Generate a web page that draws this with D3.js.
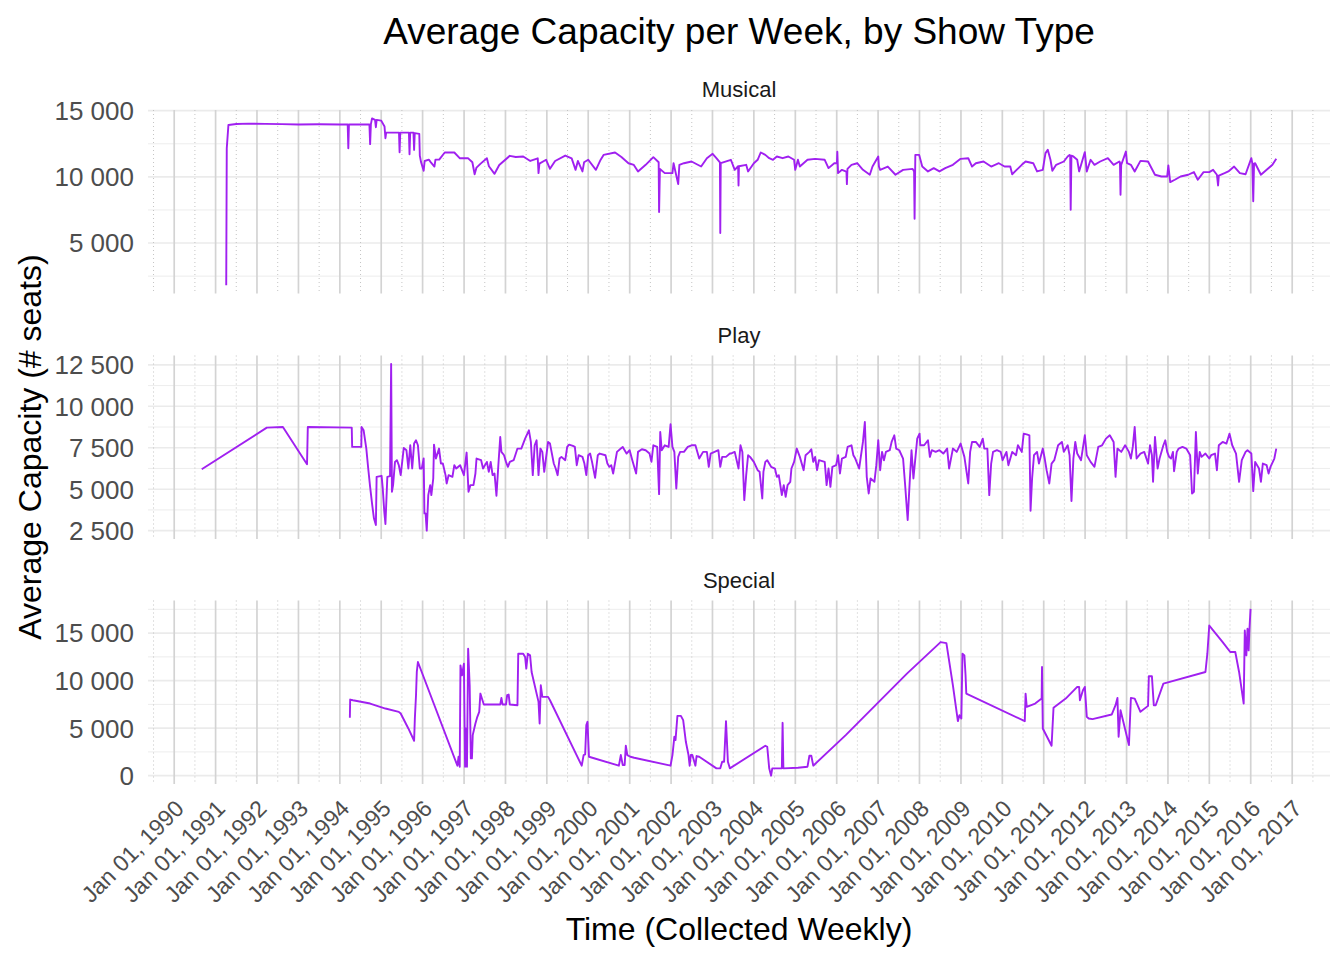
<!DOCTYPE html>
<html>
<head>
<meta charset="utf-8">
<script src="https://cdn.jsdelivr.net/npm/d3@7"></script>
<style>
  body { margin: 0; background: #fff; }
  svg text { font-family: "Liberation Sans", Arial, sans-serif; }
</style>
</head>
<body>
<svg id="chart" width="1344" height="960"></svg>
<script>
// Weekly average capacity (decimal years -> seats)
const musicalYears = [1991.257, 1991.27, 1991.31, 1991.5, 1991.8, 1992.2, 1992.6, 1993.0, 1993.5, 1994.0, 1994.19, 1994.205, 1994.22, 1994.5, 1994.715, 1994.732, 1994.75, 1994.778, 1994.85, 1994.871, 1994.89, 1995.0, 1995.08, 1995.102, 1995.12, 1995.43, 1995.444, 1995.46, 1995.67, 1995.684, 1995.70, 1995.78, 1995.795, 1995.81, 1995.92, 1995.933, 1995.96, 1996.026, 1996.05, 1996.15, 1996.2, 1996.285, 1996.31, 1996.4, 1996.534, 1996.765, 1996.9, 1997.1, 1997.2, 1997.255, 1997.3, 1997.4, 1997.551, 1997.6, 1997.736, 1997.85, 1998.105, 1998.25, 1998.429, 1998.6, 1998.78, 1998.799, 1998.82, 1998.983, 1999.076, 1999.2, 1999.445, 1999.6, 1999.695, 1999.75, 1999.861, 1999.9, 2000.0, 2000.185, 2000.3, 2000.37, 2000.647, 2000.8, 2000.97, 2001.1, 2001.201, 2001.386, 2001.571, 2001.70, 2001.710, 2001.73, 2001.848, 2002.033, 2002.06, 2002.172, 2002.2, 2002.311, 2002.495, 2002.726, 2002.865, 2003.004, 2003.1, 2003.18, 2003.189, 2003.2, 2003.445, 2003.538, 2003.62, 2003.630, 2003.64, 2003.815, 2003.861, 2004.0, 2004.092, 2004.166, 2004.277, 2004.37, 2004.462, 2004.555, 2004.693, 2004.832, 2004.97, 2004.998, 2005.063, 2005.109, 2005.294, 2005.479, 2005.71, 2005.802, 2005.941, 2006.005, 2006.015, 2006.033, 2006.126, 2006.218, 2006.235, 2006.246, 2006.26, 2006.357, 2006.495, 2006.634, 2006.8, 2006.865, 2007.004, 2007.02, 2007.05, 2007.235, 2007.42, 2007.604, 2007.835, 2007.870, 2007.882, 2007.90, 2007.993, 2008.067, 2008.205, 2008.344, 2008.482, 2008.621, 2008.806, 2008.991, 2009.176, 2009.268, 2009.36, 2009.545, 2009.73, 2009.915, 2010.054, 2010.192, 2010.238, 2010.47, 2010.562, 2010.747, 2010.839, 2010.978, 2011.043, 2011.098, 2011.163, 2011.209, 2011.301, 2011.486, 2011.579, 2011.625, 2011.64, 2011.652, 2011.67, 2011.717, 2011.81, 2011.856, 2011.994, 2012.041, 2012.133, 2012.226, 2012.364, 2012.549, 2012.688, 2012.826, 2012.84, 2012.854, 2012.87, 2012.983, 2013.011, 2013.104, 2013.196, 2013.335, 2013.519, 2013.686, 2013.843, 2013.982, 2014.009, 2014.055, 2014.166, 2014.305, 2014.49, 2014.628, 2014.721, 2014.86, 2014.998, 2015.091, 2015.183, 2015.211, 2015.23, 2015.368, 2015.46, 2015.599, 2015.738, 2015.876, 2016.015, 2016.04, 2016.061, 2016.08, 2016.107, 2016.246, 2016.384, 2016.523, 2016.616];
const musicalSeats = [1820, 12160, 13920, 13990, 14020, 14000, 13980, 13960, 13970, 13950, 13960, 12160, 13950, 13960, 13950, 12470, 13960, 14420, 14300, 13750, 14300, 14250, 13800, 12920, 13340, 13340, 11860, 13340, 13340, 11710, 13340, 13340, 12040, 13300, 13250, 11600, 11150, 10460, 11200, 11300, 11100, 10780, 11300, 11300, 11840, 11840, 11400, 11400, 11100, 10200, 10700, 11000, 11410, 10800, 10230, 10900, 11590, 11500, 11540, 11200, 11400, 10280, 11000, 11290, 10610, 11200, 11610, 11400, 10530, 11200, 10410, 11100, 11290, 10530, 11300, 11660, 11840, 11500, 11030, 10900, 10410, 10910, 11490, 11100, 7350, 10600, 10280, 10280, 11030, 9450, 10900, 11030, 11160, 10780, 11410, 11740, 11400, 11100, 5760, 11030, 11290, 10530, 10800, 9350, 10800, 10910, 10410, 11030, 11290, 11840, 11660, 11410, 11290, 11540, 11410, 11540, 11290, 10530, 11290, 10780, 11290, 11360, 11290, 10660, 11030, 11030, 11900, 10280, 10530, 10410, 10400, 9450, 10600, 10910, 11030, 10530, 10160, 10780, 11540, 10780, 10530, 10780, 10160, 10530, 10600, 10400, 6840, 11660, 11660, 10780, 10410, 10660, 10410, 10660, 10910, 11360, 11410, 10780, 11030, 11160, 10780, 11030, 10780, 10780, 10200, 10910, 11160, 11030, 10410, 10530, 11790, 12040, 11290, 10460, 10910, 11160, 11540, 11660, 11600, 7520, 11600, 11540, 11290, 10410, 11870, 10410, 11290, 10910, 11160, 11410, 10910, 11160, 11100, 8650, 10900, 11910, 11030, 10910, 10410, 11210, 11160, 10160, 10030, 10030, 10860, 9600, 9780, 10030, 10160, 10360, 9780, 10360, 10360, 10530, 10160, 9350, 10100, 10280, 10410, 10780, 10280, 10200, 11410, 11000, 8150, 11000, 11030, 10160, 10530, 10910, 11360];

const playYears = [1990.665, 1992.237, 1992.625, 1993.207, 1993.226, 1994.288, 1994.298, 1994.519, 1994.525, 1994.575, 1994.640, 1994.686, 1994.732, 1994.778, 1994.824, 1994.871, 1994.889, 1995.009, 1995.037, 1995.074, 1995.102, 1995.148, 1995.213, 1995.240, 1995.259, 1995.287, 1995.333, 1995.379, 1995.425, 1995.471, 1995.545, 1995.610, 1995.656, 1995.702, 1995.749, 1995.795, 1995.841, 1995.887, 1995.933, 1995.980, 1996.026, 1996.044, 1996.072, 1996.100, 1996.137, 1996.183, 1996.211, 1996.257, 1996.275, 1996.322, 1996.396, 1996.442, 1996.488, 1996.553, 1996.580, 1996.627, 1996.719, 1996.765, 1996.811, 1996.904, 1996.996, 1997.061, 1997.107, 1997.153, 1997.227, 1997.274, 1997.301, 1997.412, 1997.458, 1997.551, 1997.597, 1997.643, 1997.689, 1997.736, 1997.782, 1997.828, 1997.874, 1997.902, 1997.967, 1998.013, 1998.059, 1998.105, 1998.198, 1998.290, 1998.383, 1998.429, 1998.475, 1998.567, 1998.614, 1998.660, 1998.706, 1998.752, 1998.799, 1998.845, 1998.891, 1998.937, 1999.030, 1999.076, 1999.168, 1999.214, 1999.261, 1999.307, 1999.353, 1999.445, 1999.492, 1999.538, 1999.630, 1999.677, 1999.723, 1999.769, 1999.861, 1999.908, 1999.954, 2000.000, 2000.046, 2000.092, 2000.166, 2000.231, 2000.277, 2000.416, 2000.462, 2000.508, 2000.555, 2000.601, 2000.693, 2000.786, 2000.832, 2000.924, 2000.998, 2001.063, 2001.155, 2001.201, 2001.294, 2001.386, 2001.479, 2001.525, 2001.571, 2001.664, 2001.710, 2001.738, 2001.774, 2001.848, 2001.941, 2001.987, 2002.033, 2002.079, 2002.126, 2002.172, 2002.218, 2002.311, 2002.403, 2002.495, 2002.588, 2002.680, 2002.773, 2002.865, 2002.911, 2002.957, 2003.050, 2003.142, 2003.189, 2003.235, 2003.327, 2003.420,
  2003.445, 2003.538, 2003.630, 2003.677, 2003.723, 2003.769, 2003.815, 2003.861, 2003.908, 2004.000, 2004.092, 2004.139, 2004.203, 2004.231, 2004.277, 2004.323, 2004.416, 2004.508, 2004.555, 2004.601, 2004.675, 2004.721, 2004.767, 2004.813, 2004.878, 2004.906, 2004.970, 2005.035, 2005.109, 2005.201, 2005.248, 2005.340, 2005.386, 2005.433, 2005.479, 2005.525, 2005.571, 2005.710, 2005.756, 2005.802, 2005.848, 2005.895, 2005.987, 2006.033, 2006.079, 2006.126, 2006.218, 2006.264, 2006.357, 2006.403, 2006.449, 2006.542, 2006.634, 2006.680, 2006.726, 2006.773, 2006.819, 2006.911, 2006.957, 2007.004, 2007.050, 2007.096, 2007.142, 2007.189, 2007.281, 2007.327, 2007.392, 2007.438, 2007.512, 2007.604, 2007.651, 2007.715, 2007.762, 2007.808, 2007.854, 2007.900, 2007.946, 2008.002, 2008.020, 2008.113, 2008.205, 2008.251, 2008.298, 2008.390, 2008.482, 2008.575, 2008.667, 2008.714, 2008.806, 2008.898, 2008.991, 2009.083, 2009.176, 2009.222, 2009.268, 2009.360, 2009.453, 2009.527, 2009.564, 2009.638, 2009.684, 2009.730, 2009.776, 2009.869, 2009.961, 2010.007, 2010.100, 2010.146, 2010.238, 2010.331, 2010.377, 2010.470, 2010.516, 2010.608, 2010.654, 2010.682, 2010.719, 2010.765, 2010.839, 2010.885, 2010.978, 2011.024, 2011.070, 2011.135, 2011.190, 2011.255, 2011.348, 2011.440, 2011.486, 2011.579, 2011.625, 2011.671, 2011.717, 2011.763, 2011.810, 2011.902, 2011.994, 2012.041, 2012.133, 2012.226, 2012.318, 2012.410, 2012.503, 2012.595, 2012.688, 2012.734, 2012.780, 2012.872, 2012.965, 2013.057, 2013.104, 2013.150, 2013.196, 2013.242, 2013.335, 2013.427, 2013.519, 2013.566, 2013.612, 2013.640, 2013.686, 2013.750, 2013.797, 2013.889, 2013.935, 2013.982, 2014.028, 2014.074, 2014.120, 2014.148, 2014.213, 2014.259, 2014.351, 2014.444, 2014.536, 2014.582, 2014.628, 2014.675, 2014.721, 2014.767, 2014.813, 2014.906, 2014.998, 2015.044, 2015.137, 2015.183, 2015.229, 2015.322, 2015.414, 2015.488, 2015.553, 2015.645, 2015.719, 2015.784, 2015.876, 2015.922, 2016.015, 2016.061, 2016.107, 2016.200, 2016.246, 2016.292, 2016.384, 2016.431, 2016.477, 2016.569, 2016.616];
const playSeats = [6207, 8712, 8753, 6508, 8753, 8712, 7550, 7550, 8753, 8552, 7450, 6248, 5145, 4143, 3242, 2841, 5747, 5807, 5045, 3642, 2901, 5747, 5787, 12560, 4845, 5246, 6648, 6749, 6448, 5847, 7490, 7350, 6248, 7650, 6248, 7751, 7951, 7650, 6248, 6248, 6849, 3542, 3542, 2500, 4644, 5246, 4644, 5646, 7690, 6849, 7450, 6548, 6548, 5847, 5346, 5847, 5747, 6448, 6248, 6448, 5847, 7209, 4845, 5246, 5246, 5947, 6849, 6749, 6248, 6648, 6047, 6648, 5847, 5947, 4604, 6448, 8151, 7250, 7049, 6648, 6348, 6648, 6749, 7450, 7450, 7751, 8051, 8552, 7851, 5847, 7650, 7951, 5847, 7450, 7250, 6047, 7851, 7751, 6548, 6248, 5847, 6849, 6949, 6749, 7550, 7690, 7610, 7550, 6448, 7049, 6949, 6548, 5847, 7049, 7149, 6648, 5686, 7049, 7149, 7049, 6548, 6348, 6448, 5947, 7250, 7450, 7550, 7149, 7350, 6749, 5947, 7250, 7410, 7350, 7149, 6648, 7650, 7550, 4704, 8452, 7350, 7650, 7550, 8913, 7550, 7250, 5045, 6949, 7250, 7250, 7550, 7650, 7650, 6849, 7250, 7250, 6348, 7149, 7250, 7350, 6348, 6949, 6949, 7149,
  7149, 7250, 6248, 7650, 7250, 4344, 5847, 7049, 6949, 6648, 6147, 6047, 4444, 6047, 6648, 6749, 6348, 6248, 5747, 5847, 4644, 5246, 4544, 5246, 5446, 6248, 6648, 7450, 6949, 6147, 7049, 7250, 7410, 6648, 6949, 6147, 6749, 6648, 5246, 6248, 5145, 6348, 6448, 7049, 5947, 6849, 6949, 7550, 7650, 7049, 6849, 6248, 7851, 9053, 5747, 4745, 5646, 5446, 6448, 7951, 6147, 7250, 6749, 7250, 7350, 7851, 8252, 7450, 7350, 6849, 5346, 3141, 5346, 7350, 5646, 6849, 8051, 8352, 7650, 7650, 7951, 6949, 7350, 7250, 7350, 7149, 7450, 6248, 7450, 7250, 7751, 6949, 5346, 7250, 7851, 7851, 7550, 8051, 7450, 7450, 4644, 6548, 7250, 7350, 7250, 6749, 7250, 6448, 7250, 7049, 7650, 7250, 8352, 8292, 8252, 3702, 5646, 7049, 7250, 6548, 7450, 6849, 6147, 5346, 6548, 6749, 7650, 7851, 7250, 7650, 7049, 4284, 6849, 7851, 7149, 6749, 8252, 7049, 6648, 6348, 7550, 7650, 8051, 8252, 7851, 5747, 7450, 7250, 7650, 7250, 6849, 7550, 8753, 6849, 7149, 7250, 6548, 7650, 7049, 5446, 8151, 6248, 6849, 7650, 7951, 7250, 6949, 6849, 7250, 6087, 7250, 7450, 7550, 7450, 7049, 4745, 4845, 8452, 5947, 7250, 6949, 7149, 6849, 7049, 7149, 6147, 7650, 7851, 7751, 8352, 7650, 7149, 5446, 6749, 7250, 7350, 7149, 4885, 6648, 6248, 5446, 6548, 6448, 5947, 6348, 6849, 7450];

const specialYears = [1994.242, 1994.25, 1994.316, 1994.732, 1995.102, 1995.425, 1995.471, 1995.656, 1995.795, 1995.813, 1995.841, 1995.860, 1995.887, 1996.839, 1996.867, 1996.895, 1996.913, 1996.950, 1996.996, 1997.024, 1997.043, 1997.070, 1997.098, 1997.135, 1997.163, 1997.190, 1997.209, 1997.274, 1997.320, 1997.366, 1997.394, 1997.431, 1997.477, 1997.874, 1997.902, 1997.930, 1998.013, 1998.041, 1998.078, 1998.105, 1998.290, 1998.309, 1998.429, 1998.475, 1998.503, 1998.540, 1998.595, 1998.632, 1998.706, 1998.799, 1998.826, 1998.854, 1998.891, 1999.030, 1999.076, 1999.843, 1999.889, 1999.926, 1999.954, 1999.982, 2000.018, 2000.739, 2000.786, 2000.832, 2000.878, 2000.906, 2000.943, 2001.017, 2001.109, 2001.987, 2002.033, 2002.079, 2002.107, 2002.153, 2002.237, 2002.292, 2002.357, 2002.421, 2002.449, 2002.477, 2002.514, 2002.588, 2002.616, 2002.680, 2003.096, 2003.189, 2003.235, 2003.281, 2003.327, 2003.373, 2003.420, 2004.277, 2004.323, 2004.370, 2004.416, 2004.444, 2004.675, 2004.693, 2004.712, 2005.063, 2005.294, 2005.340, 2005.386, 2005.433, 2006.218, 2007.697, 2008.510, 2008.649, 2008.806, 2008.926, 2008.963, 2009.009, 2009.037, 2009.083, 2009.111, 2009.129, 2010.543, 2010.562, 2010.590, 2010.793, 2010.950, 2010.959, 2010.978, 2011.190, 2011.237, 2011.532, 2011.810, 2011.856, 2011.875, 2011.948, 2011.994, 2012.041, 2012.087, 2012.179, 2012.641, 2012.734, 2012.780, 2012.808, 2012.854, 2013.057, 2013.104, 2013.196, 2013.335, 2013.519, 2013.538, 2013.612, 2013.658, 2013.704, 2013.889, 2014.906, 2014.952, 2014.998, 2015.072, 2015.322, 2015.506, 2015.627, 2015.719, 2015.830, 2015.857, 2015.895, 2015.922, 2015.950, 2015.968, 2015.996];
const specialSeats = [6085, 8008, 7938, 7588, 7064, 6714, 6539, 4966, 3672, 6015, 8463, 10911, 11960, 1049, 1993, 944, 11610, 10561, 11785, 944, 4966, 944, 13359, 9512, 1818, 1818, 4266, 5490, 6190, 6714, 8638, 8113, 7484, 7484, 8183, 7484, 7484, 8463, 8533, 7484, 7414, 12834, 12834, 12484, 11260, 12834, 12659, 10911, 9512, 7763, 5490, 9512, 8288, 8288, 7938, 1049, 2168, 2238, 5315, 5665, 1993, 1049, 2168, 1119, 1119, 3147, 2168, 1993, 1888, 1049, 2168, 4091, 3742, 6295, 6295, 5840, 3567, 2168, 1049, 2168, 2168, 1049, 2063, 1993, 769, 769, 1469, 1469, 5735, 1469, 769, 3147, 3042, 769, 0, 769, 769, 5560, 769, 839, 944, 2098, 2098, 1049, 4266, 10736, 14058, 13953, 9512, 5735, 6365, 6015, 12834, 12659, 10561, 8638, 5735, 8638, 7239, 7588, 8113, 11435, 4966, 3147, 7134, 8113, 9337, 9337, 7938, 8987, 9337, 6190, 6015, 5945, 6434, 7414, 8183, 4091, 6889, 3217, 8183, 8113, 6714, 7344, 10456, 10456, 7414, 7414, 9687, 10911, 12834, 15806, 15387, 14058, 13009, 13009, 10911, 7588, 15282, 12659, 15457, 13184, 15282, 17555];

const showTypes = ["Musical", "Play", "Special"];
const musicalTicks = [5000, 10000, 15000];
const playTicks = [2500, 5000, 7500, 10000, 12500];
const specialTicks = [0, 5000, 10000, 15000];

const chartTitle = "Average Capacity per Week, by Show Type";
const xTitle = "Time (Collected Weekly)";
const yTitle = "Average Capacity (# seats)";

// layout
const width = 1344, height = 960;
const panelLeft = 148, panelRight = 1330;
const panelTops = [110, 355.5, 600.5];
const panelH = 183.5;
const lineColor = "#A020F0";

function toDate(y) {
    const yr = Math.floor(y);
    const start = Date.UTC(yr, 0, 1), end = Date.UTC(yr + 1, 0, 1);
    return new Date(start + (y - yr) * (end - start));
}

function zip(years, seats) {
    return years.map((y, i) => ({ date: toDate(y), seats: seats[i] }));
}

function expand(ext) {
    const pad = (ext[1] - ext[0]) * 0.05;
    return [ext[0] - pad, ext[1] + pad];
}

const facets = [
    { name: showTypes[0], data: zip(musicalYears, musicalSeats), ticks: musicalTicks },
    { name: showTypes[1], data: zip(playYears, playSeats), ticks: playTicks },
    { name: showTypes[2], data: zip(specialYears, specialSeats), ticks: specialTicks }
];

const fmt = d3.formatLocale({ decimal: ".", thousands: " ", grouping: [3], currency: ["", ""] }).format(",");
const dateFmt = d3.utcFormat("%b %d, %Y");

const allDates = facets.flatMap(f => f.data.map(d => d.date));
const dExt = d3.extent(allDates).map(d => +d);
const x = d3.scaleUtc()
    .domain(expand(dExt).map(t => new Date(t)))
    .range([panelLeft, panelRight]);

const majorX = x.ticks(d3.utcYear.every(1));
const minorX = [];
for (let i = 0; i < majorX.length - 1; i++) {
    minorX.push(new Date((+majorX[i] + +majorX[i + 1]) / 2));
}
const step = +majorX[1] - +majorX[0];
[+majorX[0] - step / 2, +majorX[majorX.length - 1] + step / 2].forEach(t => {
    const d = new Date(t);
    if (d >= x.domain()[0] && d <= x.domain()[1]) minorX.push(d);
});

const svg = d3.select("#chart");
svg.append("rect").attr("width", width).attr("height", height).attr("fill", "#fff");

facets.forEach((f, i) => {
    const top = panelTops[i];
    const y = d3.scaleLinear()
        .domain(expand(d3.extent(f.data, d => d.seats)))
        .range([top + panelH, top]);

    const g = svg.append("g");
    const dom = y.domain();

    // horizontal minor grid
    const minorY = [];
    const tstep = f.ticks[1] - f.ticks[0];
    for (let v = f.ticks[0] - tstep / 2; v <= f.ticks[f.ticks.length - 1] + tstep / 2; v += tstep) {
        if (v >= dom[0] && v <= dom[1]) minorY.push(v);
    }
    g.selectAll(".hminor").data(minorY).enter().append("line")
        .attr("x1", panelLeft).attr("x2", panelRight)
        .attr("y1", d => y(d)).attr("y2", d => y(d))
        .attr("stroke", "#ebebeb").attr("stroke-width", 0.9);

    g.selectAll(".hmajor").data(f.ticks).enter().append("line")
        .attr("x1", panelLeft).attr("x2", panelRight)
        .attr("y1", d => y(d)).attr("y2", d => y(d))
        .attr("stroke", "#ebebeb").attr("stroke-width", 1.6);

    // vertical grid
    g.selectAll(".vminor").data(minorX).enter().append("line")
        .attr("x1", d => x(d)).attr("x2", d => x(d))
        .attr("y1", top).attr("y2", top + panelH)
        .attr("stroke", "#bdbdbd").attr("stroke-width", 0.9)
        .attr("stroke-dasharray", "1,3");

    g.selectAll(".vmajor").data(majorX).enter().append("line")
        .attr("x1", d => x(d)).attr("x2", d => x(d))
        .attr("y1", top).attr("y2", top + panelH)
        .attr("stroke", "#d3d3d3").attr("stroke-width", 1.7);

    // y tick labels
    g.selectAll(".ylab").data(f.ticks).enter().append("text")
        .attr("x", 134).attr("y", d => y(d)).attr("dy", "0.36em")
        .attr("text-anchor", "end")
        .attr("font-size", 26).attr("fill", "#4d4d4d")
        .text(d => fmt(d));

    // strip label
    g.append("text")
        .attr("x", (panelLeft + panelRight) / 2).attr("y", top - 13)
        .attr("text-anchor", "middle")
        .attr("font-size", 22).attr("fill", "#1a1a1a")
        .text(f.name);

    const line = d3.line().x(d => x(d.date)).y(d => y(d.seats));
    g.append("path").datum(f.data)
        .attr("d", line)
        .attr("fill", "none")
        .attr("stroke", lineColor)
        .attr("stroke-width", 1.9)
        .attr("stroke-linejoin", "round");
});

// x tick labels under bottom panel
svg.append("g").selectAll("text").data(majorX).enter().append("text")
    .attr("transform", d => `translate(${x(d) + 11},810) rotate(-45)`)
    .attr("text-anchor", "end")
    .attr("font-size", 23).attr("fill", "#4d4d4d")
    .text(d => dateFmt(d));

svg.append("text")
    .attr("x", (panelLeft + panelRight) / 2).attr("y", 44)
    .attr("text-anchor", "middle")
    .attr("font-size", 37).attr("fill", "#000")
    .text(chartTitle);

svg.append("text")
    .attr("x", (panelLeft + panelRight) / 2).attr("y", 940)
    .attr("text-anchor", "middle")
    .attr("font-size", 32).attr("fill", "#000")
    .text(xTitle);

svg.append("text")
    .attr("transform", `translate(41,447) rotate(-90)`)
    .attr("text-anchor", "middle")
    .attr("font-size", 32).attr("fill", "#000")
    .text(yTitle);
</script>
</body>
</html>
